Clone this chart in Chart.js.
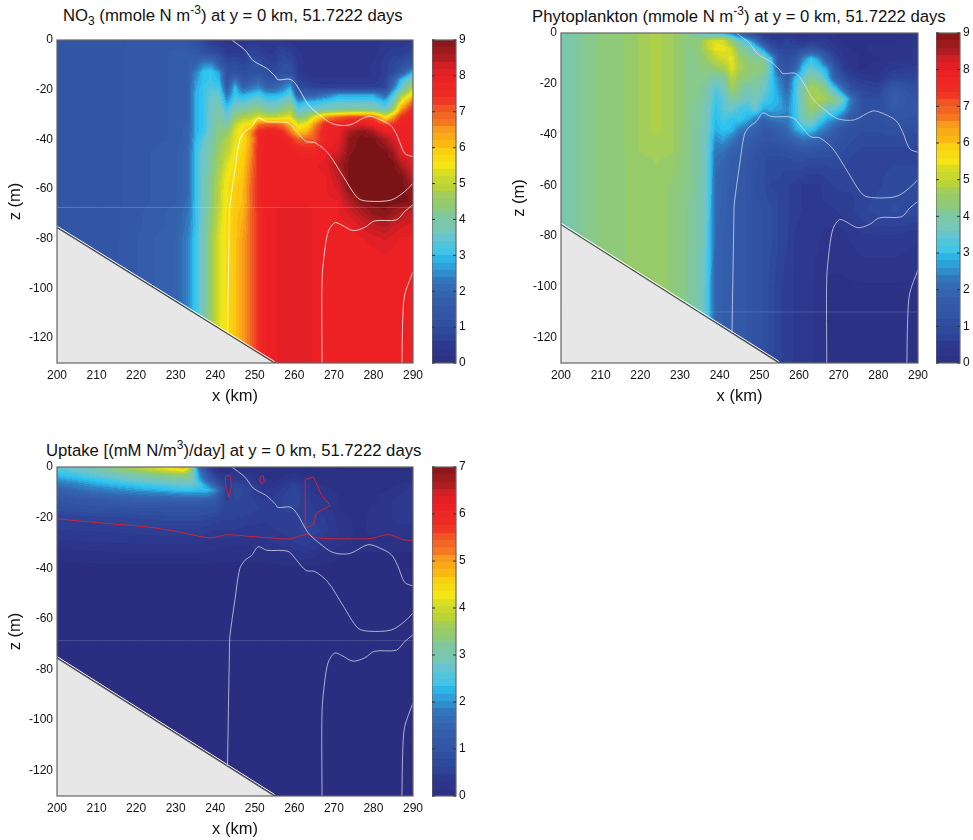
<!DOCTYPE html>
<html>
<head>
<meta charset="utf-8">
<title>Sections at y = 0 km</title>
<script src="https://cdn.jsdelivr.net/npm/chart.js@4"></script>
<style>
  html, body { margin: 0; padding: 0; background: #fff; }
  body { position: relative; width: 973px; height: 840px; overflow: hidden; }
  canvas { position: absolute; }
  .ttl { position: absolute; white-space: nowrap; font: 16.7px "Liberation Sans", Arial, sans-serif; color: #111; line-height: 20px; }
  .ttl sub, .ttl sup { font-size: 12px; line-height: 0; }
</style>
</head>
<body>
<div class="ttl" style="left:63px;top:6px">NO<sub>3</sub> (mmole N m<sup>-3</sup>) at y = 0 km, 51.7222 days</div>
<div class="ttl" style="left:532px;top:7px">Phytoplankton (mmole N m<sup>-3</sup>) at y = 0 km, 51.7222 days</div>
<div class="ttl" style="left:46px;top:441px">Uptake [(mM N/m<sup>3</sup>)/day] at y = 0 km, 51.7222 days</div>
<canvas id="no3Chart"></canvas>
<canvas id="no3Bar"></canvas>
<canvas id="phytoChart"></canvas>
<canvas id="phytoBar"></canvas>
<canvas id="uptakeChart"></canvas>
<canvas id="uptakeBar"></canvas>
<script>
const xTicks = [200, 210, 220, 230, 240, 250, 260, 270, 280, 290];
const zTicks = [0, -20, -40, -60, -80, -100, -120];
const no3BarTicks = [0, 1, 2, 3, 4, 5, 6, 7, 8, 9];
const uptakeBarTicks = [0, 1, 2, 3, 4, 5, 6, 7];

// NO3 section, one row per depth
const no3X = [200,215,230,233,235,237,239,241,243,245,247,249,251,253,255,257,259,261,263,265,268,271,274,277,280,283,285,287,290];
const no3Z = [0,-5,-10,-13,-16,-19,-22,-25,-28,-31,-34,-37,-40,-45,-50,-55,-60,-65,-70,-75,-80,-90,-130];
const no3Rows = [
[1.3,1.4,1.5,1.4,1.1,.8,.5,.4,.3,.3,.3,.4,.4,.4,.4,.4,.3,.3,.3,.3,.3,.3,.3,.3,.3,.4,.4,.4,.5],
[1.3,1.4,1.6,1.6,1.5,1.2,1,.8,.5,.5,.5,.8,.7,.5,.5,.8,.6,.4,.3,.3,.3,.3,.3,.3,.3,.5,.6,.6,.8],
[1.3,1.4,1.6,1.7,1.9,2.5,2.6,1.7,.9,1,.8,1,1,.8,.7,1,1,.5,.3,.3,.3,.3,.3,.3,.4,.6,.8,1,1.5],
[1.3,1.4,1.6,1.7,2.4,3,3.1,2.7,1.1,1.2,1,1.1,1.1,1,.9,1.1,1.1,.5,.3,.3,.3,.3,.3,.3,.4,.6,.9,1.5,3],
[1.3,1.4,1.6,1.7,2.6,3,3.1,2.9,1.2,2.2,1.3,1.5,1.9,1.3,1.3,1.7,2.1,.7,.5,.4,.4,.4,.4,.4,.4,.7,1.7,3,4],
[1.3,1.4,1.6,1.7,2.7,3.1,3.3,3.2,1.6,3,1.9,2.2,2.5,1.9,1.9,2.3,2.8,.9,.9,.7,.6,.6,.6,.6,.6,.8,2.2,3.5,4.8],
[1.3,1.4,1.6,1.7,2.8,3.1,3.5,3.5,2.2,3.1,2.8,3,3.2,2.8,2.8,3,3.5,1.6,1.8,1.8,2.2,2.7,2.7,2.7,2.7,2,3.2,4.5,5.8],
[1.3,1.4,1.6,1.7,2.8,3.1,3.6,3.7,2.7,3.4,3.4,3.6,3.8,3.4,3.4,3.7,4,2.7,3,3,3.2,3.4,3.4,3.4,3.4,3,3.8,5.5,7],
[1.3,1.4,1.6,1.7,2.8,3.1,3.6,3.9,3.2,3.9,4,4.2,4.4,4,4,4.3,4.6,3.4,3.6,3.6,3.8,4,4.1,4.1,4,3.6,4.6,6.5,7.7],
[1.3,1.4,1.6,1.7,2.8,3.1,3.7,4,3.5,4.4,4.8,4.9,5.3,5,5,5.2,5.4,4.2,4.5,5.4,6.5,6.9,7.2,7.3,7.1,5.5,6.4,7.5,8],
[1.3,1.4,1.6,1.8,2.8,3.1,3.7,4.2,3.9,5,5.5,5.6,6.8,7,7,6.8,6.2,5.3,5.5,6.5,7.7,7.8,8,8.1,7.9,7.3,7.5,8,8],
[1.3,1.4,1.6,1.8,2.8,3.1,3.8,4.3,4.4,5.3,5.7,6.5,7.6,7.8,7.8,7.6,6.8,6,6.2,6.9,7.9,8,8.6,8.9,8.6,8,8,8,8],
[1.3,1.4,1.6,1.8,2.9,3.4,3.9,4.4,4.8,5.3,5.6,6.4,7.6,8,8,7.9,7.6,7,7,7,7.8,8,8.8,9,9,8.6,8.2,8,8],
[1.3,1.4,1.7,2,3,3.6,4,4.6,5,5.5,5.8,6.5,7.6,8,8,8,8,7.9,7.7,7.7,8,8.2,8.9,9,9,9,8.7,8,8],
[1.3,1.4,1.7,2,3,3.6,4.1,4.7,5.3,5.7,5.9,6.7,7.6,8,8,8,8,8,8,8,8.1,8.6,9,9,9,9,9,8.6,8],
[1.3,1.4,1.7,2,3,3.6,4.2,4.9,5.5,5.8,6,6.8,7.6,8,8,8,8,8,8,8,8,8.4,9,9,9,9,9,9,8.4],
[1.3,1.4,1.7,2,3,3.6,4.3,5,5.6,5.9,6.1,6.9,7.6,8,8,8,8,8,8,8,8,8.2,8.9,9,9,9,9,9,8.8],
[1.3,1.4,1.7,2.1,3,3.6,4.3,5,5.6,5.9,6.1,6.9,7.6,8,8,8,8,8,8,8,8,8,8.5,8.9,9,9,9,9,8.9],
[1.3,1.4,1.8,2.2,3,3.7,4.4,5.1,5.7,6,6.2,6.9,7.5,8,8,8.1,8.1,8.1,8.1,8,8,8,8.2,8.5,8.8,8.9,8.7,8.5,8.3],
[1.3,1.4,1.8,2.3,3,3.8,4.5,5.2,5.7,6,6.3,6.9,7.5,8,8,8.1,8.1,8.1,8.1,8,7.9,7.9,8,8.2,8.4,8.5,8.3,8.2,8.1],
[1.3,1.4,1.9,2.4,3.1,3.8,4.6,5.3,5.7,6,6.4,6.9,7.5,8,8,8.1,8.1,8.1,8.1,8,7.9,7.9,7.9,8,8.1,8.2,8.1,8,8],
[1.3,1.4,1.9,2.4,3.1,3.8,4.6,5.3,5.7,6,6.4,6.9,7.5,8,8,8.1,8.1,8.1,8.1,8,7.9,7.9,7.9,7.9,7.9,7.9,7.9,7.9,7.9],
[1.3,1.4,1.9,2.4,3.1,3.8,4.6,5.3,5.7,6,6.4,6.9,7.5,8,8,8.1,8.1,8.1,8.1,8,7.9,7.9,7.9,7.9,7.9,7.9,7.9,7.9,7.9]
];

// phytoplankton section
const phytoX = [200,205,210,215,220,224,228,232,235,237,239,241,243,245,247,249,251,253,255,257,259,261,263,265,267,269,271,273,276,280,284,290];
const phytoZ = [0,-3,-6,-10,-14,-18,-22,-26,-30,-34,-38,-42,-46,-50,-60,-70,-80,-100,-130];
const phytoRows = [
[3.8,4.1,4.3,4.4,4.6,4.8,4.6,4.2,3.6,3.2,3.1,2.9,2.3,1.6,1.1,.7,.5,.3,.3,.3,.3,.3,.3,.3,.3,.2,.2,.2,.2,.2,.2,.2],
[3.8,4.1,4.3,4.4,4.6,4.8,4.6,4.3,4.4,5,5.3,5.2,4.4,3.6,3,2.2,1,.6,.5,.7,.5,.4,.5,.5,.4,.3,.2,.2,.2,.2,.2,.3],
[3.8,4.1,4.3,4.4,4.6,4.8,4.6,4.2,4.4,5,5.4,5.4,5.1,4.2,3.9,3.3,2.5,1.1,.8,.8,.8,.9,1.2,.9,.6,.4,.3,.2,.2,.3,.3,.4],
[3.8,4.1,4.3,4.4,4.6,4.8,4.6,4.2,4.3,4.6,5,5.2,5.4,4.6,4.3,4.1,4.1,3,1.2,1,1.2,2.4,3,2.6,1.5,.7,.4,.3,.2,.2,.3,.4],
[3.8,4.1,4.3,4.4,4.6,4.8,4.6,4.2,4.3,4.3,4.5,4.7,5.3,4.8,4.4,4.4,4.3,3.3,1.6,1.2,1.8,3.1,3.5,3.2,2.7,1.4,.6,.3,.2,.3,.5,.6],
[3.8,4.1,4.3,4.4,4.6,4.8,4.6,4.2,4.2,4.1,3.8,4,4.9,4.4,4.3,4.1,3.9,3.1,2.4,1.7,3,3.5,4.2,3.9,3.2,1.8,1.1,.7,.5,.4,.8,.8],
[3.8,4.1,4.3,4.4,4.6,4.8,4.6,4.2,4.1,3.9,3.3,3.7,4.6,4.2,3.7,4,3.6,3.1,2.6,2,3.1,4,4.7,4.6,4.1,3.2,2.2,1.1,.8,.7,1.5,1],
[3.8,4.1,4.3,4.4,4.6,4.8,4.6,4.2,4.1,3.8,3.1,3.4,4,3.9,3.5,3.8,3.3,3,2.8,2.3,3.1,4,4.7,4.8,4.6,4.3,3.6,2.4,1,1,1.7,1.2],
[3.8,4.1,4.3,4.4,4.6,4.8,4.6,4.2,4,3.7,3,3.4,3.5,3.2,3.1,3.5,2.8,2.8,2.7,2.5,3.1,3.9,4.5,4.3,3.6,3.4,3,2.1,1.1,1.1,1.5,1.3],
[3.8,4.1,4.3,4.4,4.6,4.8,4.6,4.2,4,3.6,2.9,3.2,3,3.1,2.8,2.4,1.9,2.2,2.3,2.3,3,3.7,4,3.3,2.8,2.6,2.1,1.4,1.1,1.1,1.3,1.2],
[3.8,4.1,4.3,4.4,4.6,4.8,4.6,4.2,3.9,3.6,2.8,3,2.9,2.4,2.1,1.8,1.5,1.5,1.8,2,2.7,3.1,3.1,2.6,2.2,1.7,1.3,1.1,1,1,1.1,1],
[3.8,4.1,4.3,4.4,4.6,4.7,4.6,4.2,3.9,3.5,2.5,2.7,2.3,1.9,1.7,1.5,1.3,1.3,1.4,1.6,1.9,2.2,2.1,1.9,1.6,1.3,1.1,1,.9,.9,.9,.9],
[3.8,4.1,4.3,4.4,4.6,4.7,4.6,4.2,3.9,3.5,2.3,2.2,1.9,1.7,1.5,1.3,1.1,1.1,1.1,1.2,1.3,1.4,1.4,1.3,1.2,1.1,1,.9,.8,.8,.8,.8],
[3.8,4.1,4.3,4.4,4.5,4.6,4.5,4.2,3.9,3.5,2.1,2,1.7,1.6,1.4,1.2,1,.9,.9,.9,1,1,.9,.9,.9,.9,.9,.8,.7,.8,.8,.8],
[3.8,4.1,4.3,4.4,4.5,4.5,4.4,4.2,3.9,3.5,2,1.8,1.6,1.5,1.4,1.1,1,.8,.8,.7,.6,.5,.5,.5,.6,.7,.7,.7,.7,.8,.9,.9],
[3.8,4.1,4.3,4.4,4.5,4.5,4.4,4.1,3.9,3.4,2,1.8,1.6,1.5,1.4,1.2,1.1,1,.8,.7,.6,.5,.5,.5,.5,.5,.6,.6,.8,.9,1,.9],
[3.8,4.1,4.3,4.4,4.5,4.5,4.4,4.1,3.9,3.3,2,1.7,1.6,1.5,1.4,1.2,1.1,1,.8,.7,.5,.4,.4,.4,.3,.3,.3,.4,.5,.5,.5,.4],
[3.8,4.1,4.3,4.4,4.5,4.5,4.4,4.1,3.8,3.2,1.9,1.7,1.6,1.5,1.4,1.2,1.1,.9,.7,.6,.5,.4,.4,.3,.2,.2,.2,.2,.2,.2,.2,.2],
[3.8,4.1,4.3,4.4,4.5,4.5,4.4,4.1,3.8,3.2,1.9,1.7,1.6,1.5,1.4,1.2,1.1,.9,.7,.6,.5,.4,.4,.3,.2,.2,.2,.2,.2,.2,.2,.2]
];

// uptake section
const uptakeX = [200,210,220,228,232,234,236,238,240,241.5,243,245,248,252,255,258,260,262,265,268,272,276,280,285,290];
const uptakeZ = [0,-1.5,-3,-5,-7,-9,-11,-13,-16,-20,-25,-30,-35,-40,-130];
const uptakeRows = [
[2.6,3,3.8,4.3,5,3.6,1.4,.5,.2,.1,.1,.1,.1,.1,.05,.05,.05,.05,.05,.05,.05,.05,.05,.05,.05],
[2.5,2.9,3.5,4,4.2,3.3,1.8,.8,.3,.1,.1,.15,.15,.1,.1,.1,.1,.1,.1,.1,.05,.05,.05,.05,.05],
[2.3,2.7,3.1,3.4,3.5,3.2,2,1.1,.5,.3,.2,.3,.3,.15,.1,.15,.2,.15,.1,.1,.1,.1,.1,.1,.1],
[2,2.4,2.8,3,3.1,3,2.2,1.4,.8,.5,.3,.4,.4,.2,.15,.25,.35,.25,.15,.1,.1,.1,.1,.1,.15],
[1.7,2.1,2.4,2.6,2.7,2.7,2.5,2,1.3,.7,.3,.6,.5,.25,.2,.4,.55,.4,.2,.15,.1,.1,.1,.15,.25],
[1.4,1.8,2.1,2.3,2.4,2.4,2.3,2.3,2,1.2,.3,.7,.6,.3,.3,.5,.65,.45,.25,.2,.15,.1,.1,.2,.35],
[1.2,1.5,1.7,1.8,1.9,1.9,1.9,1.9,1.6,.9,.4,.7,.6,.35,.4,.55,.65,.5,.3,.25,.15,.1,.15,.25,.4],
[1,1.2,1.4,1.4,1.4,1.4,1.4,1.3,1.2,.8,.5,.65,.6,.45,.45,.55,.6,.5,.35,.3,.15,.1,.15,.3,.4],
[.85,.95,1,1,1,1,1,.95,.9,.7,.6,.6,.6,.5,.5,.55,.55,.5,.4,.3,.15,.1,.2,.3,.4],
[.55,.6,.65,.7,.7,.7,.7,.65,.6,.55,.55,.55,.5,.45,.45,.5,.5,.5,.5,.4,.2,.15,.2,.3,.35],
[.4,.42,.45,.5,.5,.5,.5,.45,.4,.4,.4,.4,.35,.35,.4,.45,.5,.55,.6,.45,.25,.15,.2,.25,.25],
[.25,.28,.3,.3,.3,.3,.3,.25,.25,.25,.25,.2,.2,.25,.3,.35,.4,.45,.4,.3,.2,.12,.12,.12,.12],
[.08,.12,.15,.15,.15,.15,.15,.12,.1,.1,.1,.1,.1,.1,.12,.15,.2,.25,.2,.12,.05,.03,.03,.03,.03],
[.02,.02,.02,.02,.02,.02,.02,.02,.02,.02,.02,.02,.02,.02,.02,.03,.04,.05,.04,.02,.01,.01,.01,.01,.01],
[0,0,0,0,0,0,0,0,0,0,0,0,0,0,0,0,0,0,0,0,0,0,0,0,0]
];

// white density contours, same in all three sections
const contourAX = [244.2,247.5,249.6,253,255.1,255.9,258.9,260.5,263.5,266.4,269.8,274,278.6,281.6,284.5,286.1,287.9,290];
const contourAZ = [0,-4,-8.3,-11.4,-14.5,-16,-15.8,-18,-26,-30.2,-33.8,-34.2,-30.7,-32,-34.6,-38.9,-45.6,-47];
const contourBX = [243.1,243.6,243.7,245,246.2,247.5,249.2,250.9,253,258.4,260.6,263,265.2,268.5,272.4,276.1,279,284.5,287.9,290];
const contourBZ = [-118,-72,-67,-52.3,-40.2,-36.9,-34.9,-31.5,-32.9,-33.3,-36.9,-40.9,-41.3,-45.5,-55,-63.7,-64.9,-64.4,-61,-57.7];
const contourCX = [267,267,267.7,268.6,270.2,271.9,274.8,277.8,280.3,285.8,287.9,290];
const contourCZ = [-130,-96.6,-84.5,-77,-73.5,-74.4,-76.7,-75.4,-72.8,-72.4,-69,-66.3];
const contourDX = [287.2,287.4,287.9,290];
const contourDZ = [-130,-112.7,-102.6,-93.2];

// red uptake contours
const redMainX = [200,210.9,223.5,232,238.7,242.9,248.8,253.8,258.9,263,265.6,273.2,279.5,283.7,287.5,290];
const redMainZ = [-20.5,-22.1,-23.8,-26,-28,-26.8,-27.4,-28,-28.4,-26.7,-28,-28.4,-28.2,-26.7,-28.7,-29];
const redLoop1X = [242.6,243.7,244.2,243.5,242.5,242.6];
const redLoop1Z = [-3.7,-3.2,-7,-12,-6.3,-3.7];
const redLoop2X = [251.5,252.1,252.4,251.7,251.3,251.5];
const redLoop2Z = [-3.7,-3.3,-5.7,-6.7,-5,-3.7];
const redLoop3X = [262.8,264.8,266.9,269.1,265.6,264.8,262.7,262.7,262.8];
const redLoop3Z = [-5,-3.9,-11.2,-15.3,-18.2,-22.8,-24.3,-11.6,-5];

const seabedX = [200, 255];
const seabedZ = [-75.5, -130];

const colorValues = [0,.5,1,1.5,2,2.5,2.9,3,3.5,4,4.5,5,5.5,6,6.5,7,7.5,8,8.5,9];
const colorHex = ['#2b2d80','#2c3a90','#2f4ea0','#3358a8','#3465b0','#2f86c8','#2cbcee','#2ec4f1','#6cc5cd','#7ec8a2','#96cb6a','#bed432','#f4e815','#fcc70e','#f8951d','#f15a24','#ee2a24','#ed1f24','#b51e23','#7a1315'];
const colorRgb = colorHex.map(h => [parseInt(h.slice(1,3),16), parseInt(h.slice(3,5),16), parseInt(h.slice(5,7),16)]);

const fontName = '"Liberation Sans", Arial, sans-serif';

function colorFor(frac) {
  // contourf style bands
  let v = Math.round(Math.min(1, Math.max(0, frac)) * 60) / 60 * 9;
  let i = 0;
  while (i < colorValues.length - 2 && v > colorValues[i + 1]) i++;
  let t = (v - colorValues[i]) / (colorValues[i + 1] - colorValues[i]);
  let a = colorRgb[i], b = colorRgb[i + 1];
  return [a[0] + (b[0] - a[0]) * t, a[1] + (b[1] - a[1]) * t, a[2] + (b[2] - a[2]) * t];
}

function gridCell(list, v, descending) {
  let i = 0;
  if (descending) { while (i < list.length - 2 && v < list[i + 1]) i++; }
  else { while (i < list.length - 2 && v > list[i + 1]) i++; }
  return [i, Math.min(1, Math.max(0, (v - list[i]) / (list[i + 1] - list[i])))];
}

// paints the gridded dataset through the chart scales, shading between grid values
const fieldPlugin = {
  id: 'fieldPaint',
  beforeDatasetsDraw(chart) {
    const ds = chart.data.datasets.find(d => d.fieldRows);
    if (!ds) return;
    const area = chart.chartArea;
    const w = Math.round(area.width), h = Math.round(area.height);
    const off = document.createElement('canvas');
    off.width = w; off.height = h;
    const octx = off.getContext('2d');
    const img = octx.createImageData(w, h);
    const xs = [], zs = [];
    for (let px = 0; px < w; px++) xs.push(gridCell(ds.fieldX, chart.scales.x.getValueForPixel(area.left + px + .5), false));
    for (let py = 0; py < h; py++) zs.push(gridCell(ds.fieldZ, chart.scales.y.getValueForPixel(area.top + py + .5), true));
    let n = 0;
    for (let py = 0; py < h; py++) {
      const [j, tz] = zs[py];
      const r0 = ds.fieldRows[j], r1 = ds.fieldRows[j + 1];
      for (let px = 0; px < w; px++) {
        const [i, tx] = xs[px];
        const top = r0[i] + (r0[i + 1] - r0[i]) * tx;
        const bot = r1[i] + (r1[i + 1] - r1[i]) * tx;
        const c = colorFor((top + (bot - top) * tz) / ds.fieldMax);
        img.data[n++] = c[0]; img.data[n++] = c[1]; img.data[n++] = c[2]; img.data[n++] = 255;
      }
    }
    octx.putImageData(img, 0, 0);
    chart.ctx.drawImage(off, area.left, area.top, area.width, area.height);
  }
};

const framePlugin = {
  id: 'frameBox',
  afterDatasetsDraw(chart) {
    const a = chart.chartArea, ctx = chart.ctx;
    ctx.save();
    ctx.strokeStyle = '#666';
    ctx.lineWidth = 1.2;
    ctx.strokeRect(a.left, a.top, a.width, a.height);
    const bar = chart.options.plugins.frameBox.barTicks;
    if (bar) {
      ctx.strokeStyle = '#333';
      ctx.lineWidth = 1;
      bar.forEach(v => {
        const y = chart.scales.y.getPixelForValue(v);
        ctx.beginPath();
        ctx.moveTo(a.left, y); ctx.lineTo(a.left + 3, y);
        ctx.moveTo(a.right, y); ctx.lineTo(a.right - 3, y);
        ctx.stroke();
      });
    }
    ctx.restore();
  }
};

function pts(xs, zs) { return xs.map((x, i) => ({ x: x, y: zs[i] })); }

function lineSet(label, xs, zs, color, width, tension) {
  return { label: label, data: pts(xs, zs), showLine: true, pointRadius: 0, borderColor: color, borderWidth: width || 1, tension: tension === undefined ? 0.3 : tension, fill: false };
}

function section(id, left, top, width, height, field, lineColor, ghostZ, ghostColor, extra) {
  const pad = 30;
  const cv = document.getElementById(id);
  cv.style.left = (left - 57) + 'px';
  cv.style.top = (top - pad) + 'px';
  cv.width = width + 57 + 20;
  cv.height = height + pad + 46;
  const cells = [];
  field.rows.forEach((row, j) => row.forEach((v, i) => cells.push({ x: field.xs[i], y: field.zs[j], v: v })));
  field.rows.forEach(r => { if (r.length !== field.xs.length) throw new Error(id + ' row length ' + r.length); });
  const datasets = [
    { label: field.name, data: cells, pointRadius: 0, showLine: false, fieldX: field.xs, fieldZ: field.zs, fieldRows: field.rows, fieldMax: field.max },
    lineSet('level', [200, 290], [ghostZ, ghostZ], ghostColor, 1),
    lineSet('contour a', contourAX, contourAZ, lineColor),
    lineSet('contour b', contourBX, contourBZ, lineColor),
    lineSet('contour c', contourCX, contourCZ, lineColor),
    lineSet('contour d', contourDX, contourDZ, lineColor)
  ].concat(extra || []);
  datasets.push({ label: 'shelf edge', data: pts(seabedX, seabedZ.map(z => z + 0.6)), showLine: true, pointRadius: 0, borderColor: '#fff', borderWidth: 1, fill: false });
  datasets.push({ label: 'shelf', data: pts(seabedX, seabedZ), showLine: true, pointRadius: 0, borderColor: '#4a4a4a', borderWidth: 1.2, backgroundColor: '#e6e7e6', fill: 'start' });
  new Chart(cv, {
    type: 'scatter',
    data: { datasets: datasets },
    plugins: [fieldPlugin, framePlugin],
    options: {
      responsive: false,
      animation: false,
      layout: { padding: { top: pad, right: 20, left: 0, bottom: 0 } },
      plugins: { legend: { display: false }, tooltip: { enabled: false }, frameBox: {} },
      scales: {
        x: {
          type: 'linear', min: 200, max: 290,
          afterBuildTicks: s => { s.ticks = xTicks.map(v => ({ value: v })); },
          afterFit: s => { s.height = 46; s.paddingLeft = 0; s.paddingRight = 0; },
          border: { display: false },
          grid: { display: false, drawTicks: false },
          ticks: { color: '#111', padding: 5, maxRotation: 0, font: { family: fontName, size: 12 }, callback: v => String(v) },
          title: { display: true, text: 'x (km)', color: '#111', padding: { top: 0, bottom: 3 }, font: { family: fontName, size: 16.5 } }
        },
        y: {
          type: 'linear', min: -130, max: 0,
          afterBuildTicks: s => { s.ticks = zTicks.map(v => ({ value: v })); },
          afterFit: s => { s.width = 57; s.paddingTop = 0; s.paddingBottom = 0; },
          border: { display: false },
          grid: { display: false, drawTicks: false },
          ticks: { color: '#111', padding: 4, font: { family: fontName, size: 12 }, callback: v => String(v) },
          title: { display: true, text: 'z (m)', color: '#111', padding: { top: 6, bottom: 0 }, font: { family: fontName, size: 16.5 } }
        }
      }
    }
  });
}

function colorbar(id, left, top, height, vmax, ticks) {
  const pad = 10;
  const cv = document.getElementById(id);
  cv.style.left = left + 'px';
  cv.style.top = (top - pad) + 'px';
  cv.width = 40;
  cv.height = height + pad * 2;
  new Chart(cv, {
    type: 'bar',
    data: {
      labels: ['scale'],
      datasets: [{
        label: 'scale',
        data: [[0, vmax]],
        barPercentage: 1,
        categoryPercentage: 1,
        backgroundColor: ctx => {
          const chart = ctx.chart;
          if (!chart.chartArea) return '#2b2d80';
          const g = chart.ctx.createLinearGradient(0, chart.chartArea.bottom, 0, chart.chartArea.top);
          const bands = 45;
          for (let i = 0; i < bands; i++) {
            const c = colorFor((i + .5) / bands);
            const col = 'rgb(' + c.map(Math.round).join(',') + ')';
            g.addColorStop(i / bands, col);
            g.addColorStop((i + 1) / bands, col);
          }
          return g;
        }
      }]
    },
    plugins: [framePlugin],
    options: {
      responsive: false,
      animation: false,
      layout: { padding: { top: pad, bottom: pad, left: 0, right: 0 } },
      plugins: { legend: { display: false }, tooltip: { enabled: false }, frameBox: { barTicks: ticks } },
      scales: {
        x: { display: false },
        y: {
          position: 'right', min: 0, max: vmax,
          afterBuildTicks: s => { s.ticks = ticks.map(v => ({ value: v })); },
          afterFit: s => { s.width = 16; s.paddingTop = 0; s.paddingBottom = 0; },
          border: { display: false },
          grid: { display: false, drawTicks: false },
          ticks: { color: '#111', padding: 3, font: { family: fontName, size: 12 }, callback: v => String(v) }
        }
      }
    }
  });
}

const whiteLine = 'rgba(255,255,255,0.75)';
const paleLine = 'rgba(226,226,240,0.72)';
const redLine = '#cf2233';

section('no3Chart', 57, 40, 356, 323, { name: 'NO3', xs: no3X, zs: no3Z, rows: no3Rows, max: 9 }, whiteLine, -67.4, 'rgba(255,255,255,0.2)');
colorbar('no3Bar', 432, 40, 323, 9, no3BarTicks);

section('phytoChart', 561, 33, 357, 330, { name: 'Phytoplankton', xs: phytoX, zs: phytoZ, rows: phytoRows, max: 9 }, paleLine, -109.9, 'rgba(255,255,255,0.14)');
colorbar('phytoBar', 936, 33, 330, 9, no3BarTicks);

section('uptakeChart', 57, 467, 356, 329, { name: 'Uptake', xs: uptakeX, zs: uptakeZ, rows: uptakeRows, max: 7 }, paleLine, -68.6, 'rgba(255,255,255,0.14)', [
  lineSet('red main', redMainX, redMainZ, redLine),
  lineSet('red loop 1', redLoop1X, redLoop1Z, redLine, 1, 0),
  lineSet('red loop 2', redLoop2X, redLoop2Z, redLine, 1, 0),
  lineSet('red loop 3', redLoop3X, redLoop3Z, redLine, 1, 0)
]);
colorbar('uptakeBar', 432, 467, 329, 7, uptakeBarTicks);
</script>
</body>
</html>
